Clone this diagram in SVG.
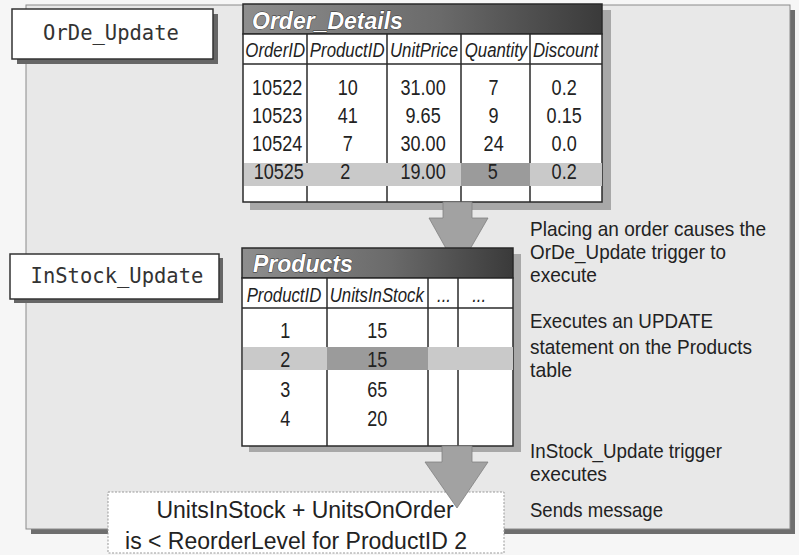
<svg xmlns="http://www.w3.org/2000/svg" width="799" height="555" viewBox="0 0 799 555">
<defs>
<linearGradient id="tbar" x1="0" y1="0" x2="1" y2="0">
<stop offset="0" stop-color="#8e8e8e"/>
<stop offset="0.55" stop-color="#6a6a6a"/>
<stop offset="1" stop-color="#3a3a3a"/>
</linearGradient>
<style>
.n{font-family:'Liberation Sans Narrow','Liberation Sans',Arial,sans-serif;fill:#222}
.hd{font-style:italic;font-size:21px;text-anchor:middle}
.dv{font-size:22px;text-anchor:middle}
.note{font-size:21px}
.ttl{font-family:'Liberation Sans',Arial,sans-serif;font-weight:bold;font-style:italic;font-size:23px;fill:#fff;stroke:#333;stroke-width:0.9;paint-order:stroke}
.mono{font-family:'DejaVu Sans Mono','Liberation Mono',monospace;font-size:20.5px;fill:#333;text-anchor:middle}
.big{font-family:'Liberation Sans',Arial,sans-serif;font-size:23px;fill:#222;text-anchor:middle}
.cell{fill:#fff;stroke:#2a2a2a;stroke-width:1.5}
.grid{stroke:#2a2a2a;stroke-width:1.5;fill:none}
.tshadow{fill:#a8a8a8}
.hl{fill:#c9c9c9}
.hl2{fill:#9b9b9b}
.lbl{fill:#fff;stroke:#333;stroke-width:1.5}
.lshadow{fill:#666}
.arrow{fill:#a2a2a2;stroke:#808080;stroke-width:0.8}
</style>
</defs>
<rect x="0" y="0" width="799" height="555" fill="#f6f6f6"/>
<g id="panel">
<rect x="31" y="10" width="764" height="524" fill="#6e6e6e"/>
<rect x="26" y="5" width="764" height="524" fill="#e8e8e8" stroke="#8a8a8a" stroke-width="1"/>
</g>
<g id="ordeUpdate">
<rect class="lshadow" x="17" y="14" width="201" height="50"/>
<rect class="lbl" x="12" y="9" width="201" height="50"/>
<text class="mono" x="111" y="40">OrDe_Update</text>
</g>
<g id="instockUpdate">
<rect class="lshadow" x="14" y="258" width="209" height="45"/>
<rect class="lbl" x="10" y="254" width="209" height="45"/>
<text class="mono" x="117" y="283">InStock_Update</text>
</g>
<g id="orderDetails">
<rect class="tshadow" x="250" y="10" width="361" height="200"/>
<rect x="243" y="4" width="359" height="30" fill="url(#tbar)" stroke="#2a2a2a" stroke-width="1.5"/>
<text class="ttl" x="252" y="29">Order_Details</text>
<rect class="cell" x="243" y="34" width="359" height="168"/>
<line class="grid" x1="243" y1="64" x2="602" y2="64"/>
<line class="grid" x1="307" y1="34" x2="307" y2="202"/>
<line class="grid" x1="387" y1="34" x2="387" y2="202"/>
<line class="grid" x1="461" y1="34" x2="461" y2="202"/>
<line class="grid" x1="530" y1="34" x2="530" y2="202"/>
<rect class="hl" x="244" y="163" width="358" height="23"/>
<rect class="hl2" x="461" y="163" width="69" height="23"/>
<g class="n hd" transform="scale(0.8,1)">
<text x="344" y="57">OrderID</text>
<text x="434" y="57">ProductID</text>
<text x="530" y="57">UnitPrice</text>
<text x="620" y="57">Quantity</text>
<text x="707" y="57">Discount</text>
</g>
<g class="n dv" transform="scale(0.82,1)">
<text x="338" y="95">10522</text><text x="424" y="95">10</text><text x="516" y="95">31.00</text><text x="602" y="95">7</text><text x="688" y="95">0.2</text>
<text x="338" y="123">10523</text><text x="424" y="123">41</text><text x="516" y="123">9.65</text><text x="602" y="123">9</text><text x="688" y="123">0.15</text>
<text x="338" y="151">10524</text><text x="424" y="151">7</text><text x="516" y="151">30.00</text><text x="602" y="151">24</text><text x="688" y="151">0.0</text>
<text x="340" y="179">10525</text><text x="421" y="179">2</text><text x="516" y="179">19.00</text><text x="601" y="179">5</text><text x="688" y="179">0.2</text>
</g>
</g>
<g id="connectors">
<polygon class="arrow" points="443,202 472,202 472,218 488,218 458,270 429,218 443,218"/>
</g>
<g id="products">
<rect class="tshadow" x="249" y="254" width="272" height="198"/>
<rect x="242" y="248" width="271" height="30" fill="url(#tbar)" stroke="#2a2a2a" stroke-width="1.5"/>
<text class="ttl" x="253" y="272">Products</text>
<rect class="cell" x="242" y="278" width="271" height="168"/>
<line class="grid" x1="242" y1="308" x2="513" y2="308"/>
<line class="grid" x1="327" y1="278" x2="327" y2="446"/>
<line class="grid" x1="428" y1="278" x2="428" y2="446"/>
<line class="grid" x1="458" y1="278" x2="458" y2="446"/>
<rect class="hl" x="243" y="347" width="270" height="23"/>
<rect class="hl2" x="327" y="347" width="101" height="23"/>
<g class="n hd" transform="scale(0.8,1)">
<text x="355" y="302">ProductID</text>
<text x="471" y="302">UnitsInStock</text>
<text x="555" y="302">...</text>
<text x="599" y="302">...</text>
</g>
<g class="n dv" transform="scale(0.82,1)">
<text x="348" y="338">1</text><text x="460" y="338">15</text>
<text x="348" y="367">2</text><text x="460" y="367">15</text>
<text x="348" y="397">3</text><text x="460" y="397">65</text>
<text x="348" y="426">4</text><text x="460" y="426">20</text>
</g>
</g>
<g id="condition">
<rect x="108" y="492" width="396" height="61" fill="#fff" stroke="#999" stroke-width="1" stroke-dasharray="2,1.5"/>
<text class="big" x="305" y="518">UnitsInStock + UnitsOnOrder</text>
<text class="big" x="296" y="549">is &lt; ReorderLevel for ProductID 2</text>
</g>
<g id="connectors2">
<polygon class="arrow" points="442,446 472,446 472,462 488,462 457,508 425,462 442,462"/>
</g>
<g id="notes" class="n note">
<text x="530" y="236" textLength="236" lengthAdjust="spacingAndGlyphs">Placing an order causes the</text>
<text x="530" y="259" textLength="196" lengthAdjust="spacingAndGlyphs">OrDe_Update trigger to</text>
<text x="530" y="282" textLength="67" lengthAdjust="spacingAndGlyphs">execute</text>
<text x="530" y="328" textLength="183" lengthAdjust="spacingAndGlyphs">Executes an UPDATE</text>
<text x="530" y="354" textLength="222" lengthAdjust="spacingAndGlyphs">statement on the Products</text>
<text x="530" y="377" textLength="42" lengthAdjust="spacingAndGlyphs">table</text>
<text x="530" y="458" textLength="192" lengthAdjust="spacingAndGlyphs">InStock_Update trigger</text>
<text x="530" y="481" textLength="77" lengthAdjust="spacingAndGlyphs">executes</text>
<text x="530" y="517" textLength="133" lengthAdjust="spacingAndGlyphs">Sends message</text>
</g>
</svg>
